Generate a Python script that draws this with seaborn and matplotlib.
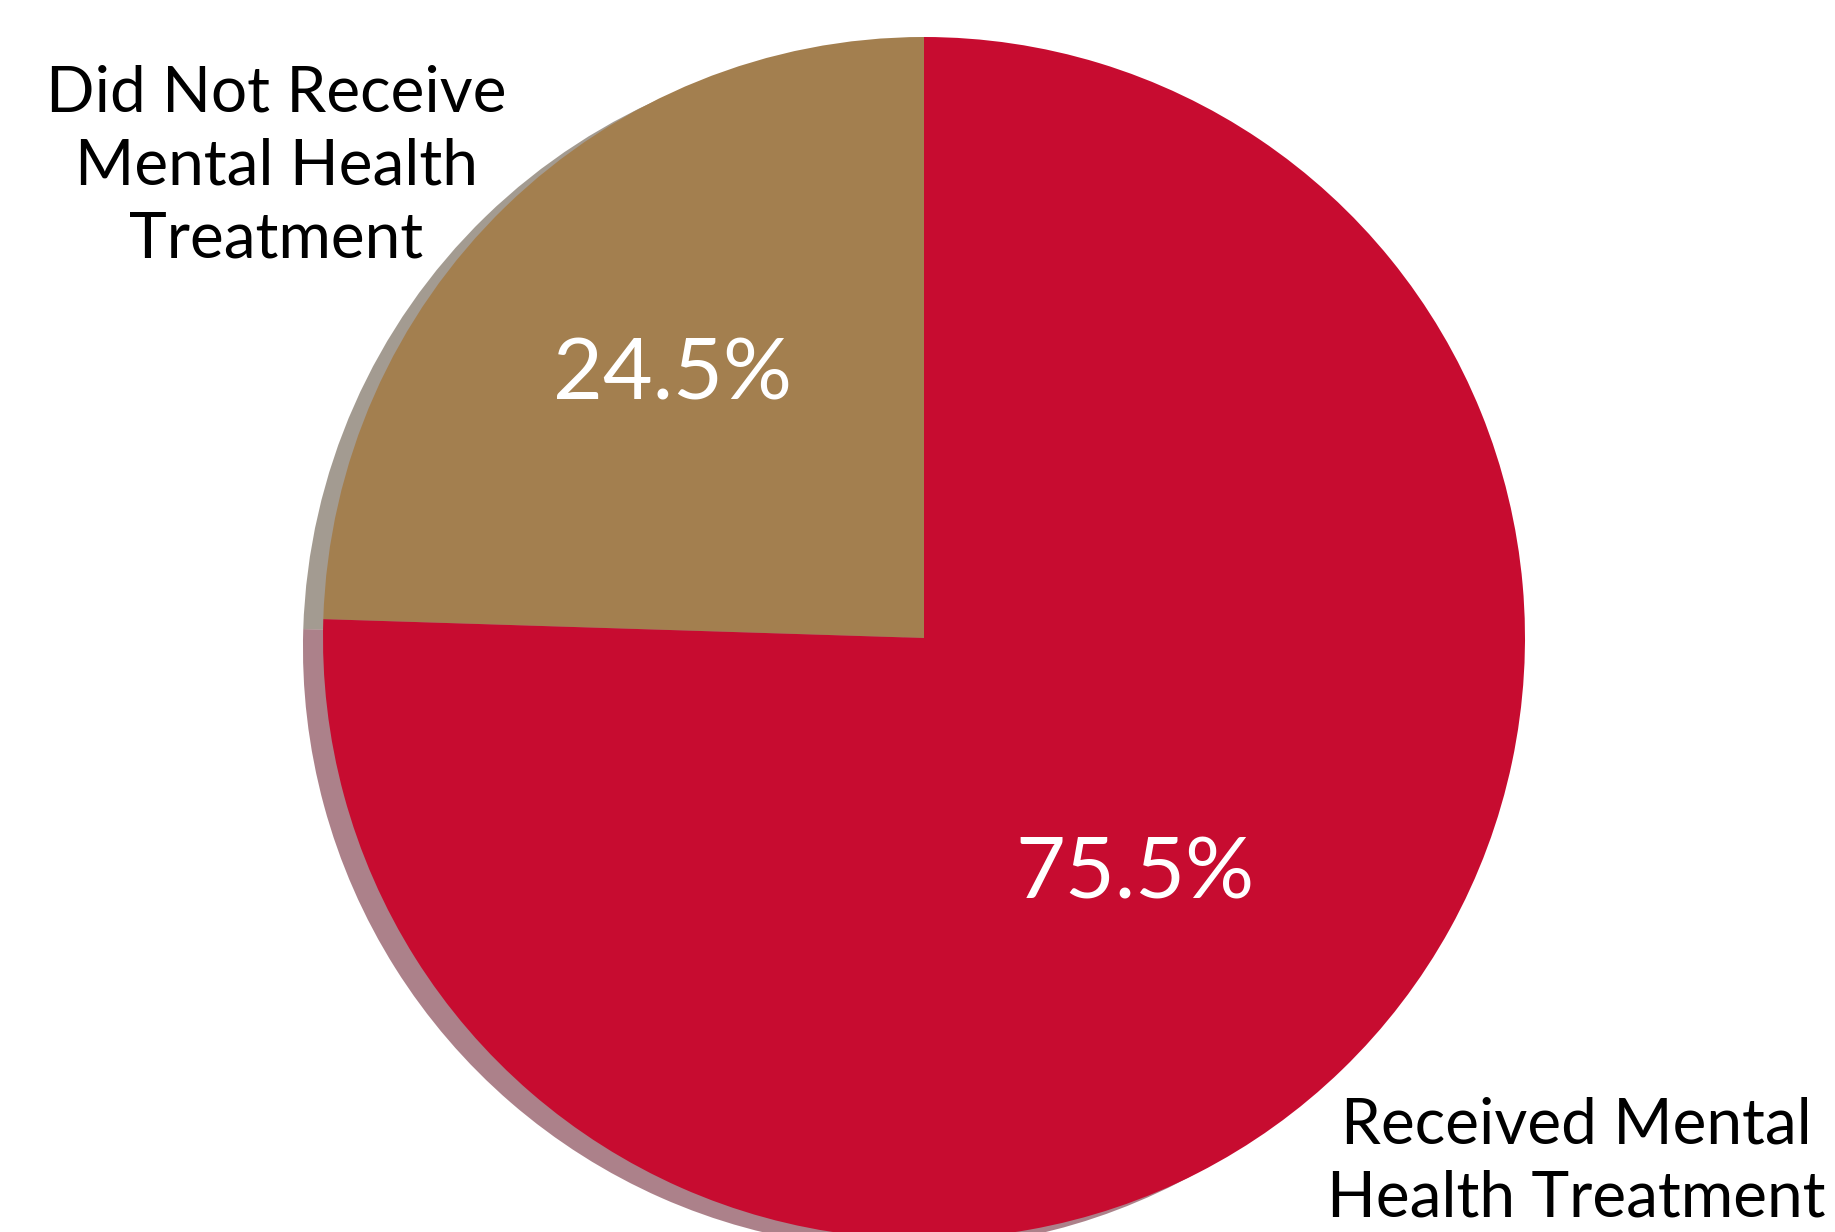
import matplotlib
matplotlib.use("Agg")
import matplotlib.pyplot as plt
import seaborn as sns

categories = ["Did Not Receive\nMental Health\nTreatment", "Received Mental\nHealth Treatment"]
values = [24.5, 75.5]
colors = ["#A37F4F", "#C70C30"]

sns.set_theme(style="white")
plt.rcParams["font.family"] = ["Lato", "DejaVu Sans"]

W, H = 1835, 1232
fig = plt.figure(figsize=(W / 100, H / 100), dpi=100)
cx, cy, r = 924, 638, 601
ax = fig.add_axes([(cx - r) / W, (H - cy - r) / H, 2 * r / W, 2 * r / H])

wedges, texts, autotexts = ax.pie(
    values, colors=colors, startangle=90, counterclock=True,
    labels=categories, autopct="%1.1f%%", pctdistance=0.6,
    shadow={"ox": -0.024, "oy": -0.012, "shade": 0.55},
    textprops={"fontsize": 46, "color": "black"},
    wedgeprops={"linewidth": 0},
)
ax.set_xlim(-1, 1)
ax.set_ylim(-1, 1)
ax.set_aspect("equal")
ax.axis("off")

label_pos = [(-1.078, 0.785), (1.085, -0.872)]
for t, p in zip(texts, label_pos):
    t.set_position(p)
    t.set_ha("center")
    t.set_va("center")
    t.set_multialignment("center")
    t.set_linespacing(1.32)
    t.set_clip_on(False)

pct_pos = [(-0.418, 0.436), (0.351, -0.393)]
for t, p in zip(autotexts, pct_pos):
    t.set_position(p)
    t.set_color("white")
    t.set_fontsize(62)
    t.set_ha("center")
    t.set_va("center")

fig.savefig("out.png", dpi=100, facecolor="white")
